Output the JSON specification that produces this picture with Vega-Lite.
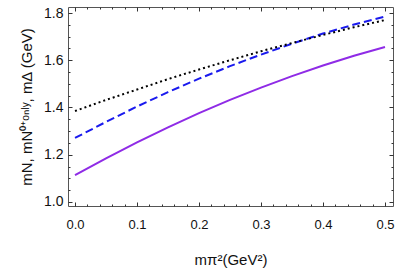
{
  "$schema": "https://vega.github.io/schema/vega-lite/v6.json",
  "width": 325,
  "height": 199,
  "autosize": {"type": "none"},
  "padding": {"left": 68, "top": 7, "right": 6, "bottom": 63},
  "background": "white",
  "config": {
    "view": {"stroke": "#555555", "strokeWidth": 1},
    "font": "Liberation Sans",
    "axis": {"domain": false, "grid": false, "tickColor": "#333333", "tickWidth": 1, "labelColor": "#111111", "titleColor": "#111111", "titleFontWeight": "normal"}
  },
  "data": {
    "values": [
      {"x": 0.0, "y": 1.114, "s": "mN"},
      {"x": 0.05, "y": 1.185, "s": "mN"},
      {"x": 0.1, "y": 1.252, "s": "mN"},
      {"x": 0.15, "y": 1.316, "s": "mN"},
      {"x": 0.2, "y": 1.376, "s": "mN"},
      {"x": 0.25, "y": 1.432, "s": "mN"},
      {"x": 0.3, "y": 1.484, "s": "mN"},
      {"x": 0.35, "y": 1.533, "s": "mN"},
      {"x": 0.4, "y": 1.578, "s": "mN"},
      {"x": 0.45, "y": 1.619, "s": "mN"},
      {"x": 0.5, "y": 1.656, "s": "mN"},
      {"x": 0.0, "y": 1.271, "s": "mN0"},
      {"x": 0.05, "y": 1.339, "s": "mN0"},
      {"x": 0.1, "y": 1.404, "s": "mN0"},
      {"x": 0.15, "y": 1.465, "s": "mN0"},
      {"x": 0.2, "y": 1.522, "s": "mN0"},
      {"x": 0.25, "y": 1.575, "s": "mN0"},
      {"x": 0.3, "y": 1.624, "s": "mN0"},
      {"x": 0.35, "y": 1.670, "s": "mN0"},
      {"x": 0.4, "y": 1.713, "s": "mN0"},
      {"x": 0.45, "y": 1.751, "s": "mN0"},
      {"x": 0.5, "y": 1.785, "s": "mN0"},
      {"x": 0.0, "y": 1.385, "s": "mD"},
      {"x": 0.05, "y": 1.432, "s": "mD"},
      {"x": 0.1, "y": 1.476, "s": "mD"},
      {"x": 0.15, "y": 1.520, "s": "mD"},
      {"x": 0.2, "y": 1.561, "s": "mD"},
      {"x": 0.25, "y": 1.600, "s": "mD"},
      {"x": 0.3, "y": 1.638, "s": "mD"},
      {"x": 0.35, "y": 1.673, "s": "mD"},
      {"x": 0.4, "y": 1.707, "s": "mD"},
      {"x": 0.45, "y": 1.740, "s": "mD"},
      {"x": 0.5, "y": 1.770, "s": "mD"}
    ]
  },
  "layer": [
    {
      "transform": [{"filter": "datum.s === 'mN'"}],
      "mark": {"type": "line", "color": "#8f2be6", "strokeWidth": 2, "clip": true},
      "encoding": {
        "x": {"field": "x", "type": "quantitative", "scale": {"domain": [-0.0113, 0.5129], "nice": false, "zero": false},
          "axis": {"orient": "bottom", "values": [0, 0.1, 0.2, 0.3, 0.4, 0.5], "format": ".1f", "offset": -4, "tickSize": 4, "labelPadding": 12, "labelFontSize": 13, "title": "mπ²(GeV²)", "titleFontSize": 15, "titlePadding": 21}},
        "y": {"field": "y", "type": "quantitative", "scale": {"domain": [0.983, 1.8254], "nice": false, "zero": false},
          "axis": {"orient": "left", "values": [1.0, 1.2, 1.4, 1.6, 1.8], "format": ".1f", "offset": -4, "tickSize": 4, "labelPadding": 5, "labelFontSize": 14, "title": "mN, mN⁰⁺ᵒⁿˡʸ, mΔ (GeV)", "titleFontSize": 15, "titlePadding": 9}}
      }
    },
    {
      "transform": [{"filter": "datum.s === 'mN0'"}],
      "mark": {"type": "line", "color": "#1a1aee", "strokeWidth": 2, "strokeDash": [8, 4], "clip": true},
      "encoding": {
        "x": {"field": "x", "type": "quantitative", "axis": {"orient": "top", "values": [0, 0.1, 0.2, 0.3, 0.4, 0.5], "labels": false, "offset": -4, "tickSize": 4, "title": null}},
        "y": {"field": "y", "type": "quantitative", "axis": {"orient": "right", "values": [1.0, 1.2, 1.4, 1.6, 1.8], "labels": false, "offset": -4, "tickSize": 4, "title": null}}
      }
    },
    {
      "transform": [{"filter": "datum.s === 'mD'"}],
      "mark": {"type": "line", "color": "#000000", "strokeWidth": 2, "strokeDash": [2, 3], "clip": true},
      "encoding": {
        "x": {"field": "x", "type": "quantitative", "axis": {"orient": "bottom", "values": [0.02, 0.04, 0.06, 0.08, 0.12, 0.14, 0.16, 0.18, 0.22, 0.24, 0.26, 0.28, 0.32, 0.34, 0.36, 0.38, 0.42, 0.44, 0.46, 0.48], "labels": false, "offset": -2, "tickSize": 2, "title": null}},
        "y": {"field": "y", "type": "quantitative", "axis": {"orient": "left", "values": [1.05, 1.1, 1.15, 1.25, 1.3, 1.35, 1.45, 1.5, 1.55, 1.65, 1.7, 1.75], "labels": false, "offset": -2, "tickSize": 2, "title": null}}
      }
    },
    {
      "transform": [{"filter": "datum.s === 'mD'"}],
      "mark": {"type": "line", "opacity": 0, "clip": true},
      "encoding": {
        "x": {"field": "x", "type": "quantitative", "axis": {"orient": "top", "values": [0.02, 0.04, 0.06, 0.08, 0.12, 0.14, 0.16, 0.18, 0.22, 0.24, 0.26, 0.28, 0.32, 0.34, 0.36, 0.38, 0.42, 0.44, 0.46, 0.48], "labels": false, "offset": -2, "tickSize": 2, "title": null}},
        "y": {"field": "y", "type": "quantitative", "axis": {"orient": "right", "values": [1.05, 1.1, 1.15, 1.25, 1.3, 1.35, 1.45, 1.5, 1.55, 1.65, 1.7, 1.75], "labels": false, "offset": -2, "tickSize": 2, "title": null}}
      }
    }
  ],
  "resolve": {"axis": {"x": "independent", "y": "independent"}}
}
